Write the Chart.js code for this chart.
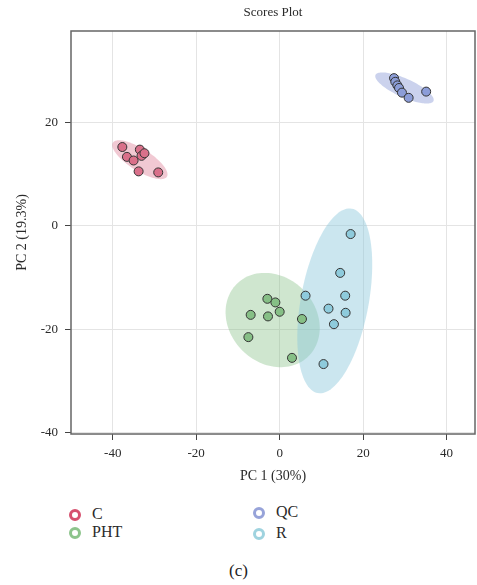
<!DOCTYPE html>
<html>
<head>
<meta charset="utf-8">
<script src="https://cdn.jsdelivr.net/npm/chart.js@4"></script>
<style>
  html, body { margin: 0; padding: 0; background: #fff; }
  body { width: 477px; height: 585px; position: relative; overflow: hidden; font-family: "Liberation Serif", "DejaVu Serif", serif; color: #333; }
  #c { position: absolute; left: 0; top: 0; }
  .lg { position: absolute; font-size: 16px; line-height: 18px; color: #2a2a2a; }
  .mk { position: absolute; width: 6px; height: 6px; border-radius: 50%; border: 3px solid; }
  #cap { position: absolute; left: 0; width: 477px; text-align: center; top: 561px; font-size: 17px; color: #222; }
</style>
</head>
<body>
<canvas id="c" width="477" height="490"></canvas>
<div id="legend"></div>
<div id="cap">(c)</div>
<script>
// ---- data ----
const groups = ['C', 'PHT', 'QC', 'R'];
const cX   = [-37.7, -36.6, -35.0, -33.5, -33.1, -32.4, -33.8, -29.1];
const cY   = [ 15.2,  13.3,  12.6,  14.7,  13.5,  14.0,  10.5,  10.3];
const phtX = [-2.95, -1.03, 0.0, -6.95, -2.8, 5.34, -7.5, 2.95];
const phtY = [-14.1, -14.8, -16.6, -17.2, -17.5, -18.0, -21.5, -25.5];
const qcX  = [27.4, 27.7, 28.2, 28.6, 29.3, 30.9, 35.1];
const qcY  = [28.5, 27.8, 27.1, 26.6, 25.7, 24.7, 25.9];
const rX   = [17.0, 14.5, 6.2, 15.7, 11.7, 15.8, 13.0, 10.5];
const rY   = [-1.6, -9.1, -13.5, -13.5, -16.0, -16.8, -19.0, -26.7];
// confidence ellipses in data units: [centerX, centerY, axis1X, axis1Y, axis2X, axis2Y]
const ellC   = [-33.5, 12.75, 6.47, -3.29, -1.41, -1.80];
const ellPHT = [-1.68, -18.2, 8.62, -6.96, -7.28, -5.87];
const ellQC  = [29.9, 26.6, 6.95, -2.51, -0.89, -1.65];
const ellR   = [13.2, -14.5, 4.07, 17.8, 8.0, -1.18];
const xTicks = [-40, -20, 0, 20, 40];
const yTicks = [-40, -20, 0, 20];

// ---- styles ----
const pointFill = { C: '#d9708a', PHT: '#86bf86', QC: '#8c9dd8', R: '#8ecbdc' };
const ellFill   = { C: 'rgba(215,100,130,0.35)', PHT: 'rgba(130,190,130,0.38)', QC: 'rgba(140,155,215,0.45)', R: 'rgba(140,200,220,0.45)' };
const legendCol = { C: '#d6506e', PHT: '#8dc48c', QC: '#97a3d9', R: '#9fd3df' };
const FONT = '"Liberation Serif", "DejaVu Serif", serif';

const seriesX = { C: cX, PHT: phtX, QC: qcX, R: rX };
const seriesY = { C: cY, PHT: phtY, QC: qcY, R: rY };
const ellipses = { C: ellC, PHT: ellPHT, QC: ellQC, R: ellR };

const datasets = groups.map(g => ({
  label: g,
  data: seriesX[g].map((x, i) => ({ x: x, y: seriesY[g][i] })),
  backgroundColor: pointFill[g],
  borderColor: '#333',
  borderWidth: 1,
  pointRadius: 4.5,
  pointHoverRadius: 4.5
}));

const ellipsePlugin = {
  id: 'ellipses',
  beforeDatasetsDraw(chart) {
    const { ctx, chartArea, scales: { x, y } } = chart;
    ctx.save();
    ctx.beginPath();
    ctx.rect(chartArea.left, chartArea.top, chartArea.right - chartArea.left, chartArea.bottom - chartArea.top);
    ctx.clip();
    groups.forEach(g => {
      const e = ellipses[g];
      ctx.beginPath();
      for (let k = 0; k <= 120; k++) {
        const t = k / 120 * Math.PI * 2;
        const vx = e[0] + Math.cos(t) * e[2] + Math.sin(t) * e[4];
        const vy = e[1] + Math.cos(t) * e[3] + Math.sin(t) * e[5];
        const px = x.getPixelForValue(vx), py = y.getPixelForValue(vy);
        if (k === 0) ctx.moveTo(px, py); else ctx.lineTo(px, py);
      }
      ctx.closePath();
      ctx.fillStyle = ellFill[g];
      ctx.fill();
    });
    ctx.restore();
  },
  afterDraw(chart) {
    const { ctx, chartArea: a } = chart;
    ctx.save();
    ctx.strokeStyle = '#666';
    ctx.lineWidth = 1.5;
    ctx.strokeRect(a.left, a.top, a.right - a.left, a.bottom - a.top);
    ctx.restore();
  }
};

new Chart(document.getElementById('c'), {
  type: 'scatter',
  data: { datasets },
  plugins: [ellipsePlugin],
  options: {
    responsive: false,
    animation: false,
    devicePixelRatio: 1,
    layout: { autoPadding: false, padding: { left: 0, right: 2, top: 0, bottom: 0 } },
    plugins: {
      legend: { display: false },
      tooltip: { enabled: false },
      title: {
        display: true,
        text: 'Scores Plot',
        fullSize: false,
        color: '#2a2a2a',
        font: { family: FONT, size: 13, weight: 'normal', lineHeight: 1.2 },
        padding: { top: 5.2, bottom: 10.2 }
      }
    },
    scales: {
      x: {
        type: 'linear',
        min: -50, max: 46.8,
        afterFit: s => { s.height = 56; s.paddingLeft = 0; s.paddingRight = 0; },
        afterBuildTicks: s => { s.ticks = xTicks.map(v => ({ value: v })); },
        ticks: { stepSize: 20, includeBounds: false, color: '#2a2a2a', padding: 6, font: { family: FONT, size: 13 } },
        grid: { color: '#e4e4e4', tickColor: '#444', tickLength: 6, lineWidth: 1 },
        border: { display: false },
        title: { display: true, text: 'PC 1 (30%)', color: '#2a2a2a', font: { family: FONT, size: 14, lineHeight: 1.2 }, padding: { top: 0, bottom: 5 } }
      },
      y: {
        type: 'linear',
        min: -40.2, max: 37.6,
        afterFit: s => { s.width = 71; },
        afterBuildTicks: s => { s.ticks = yTicks.map(v => ({ value: v })); },
        ticks: { stepSize: 20, includeBounds: false, color: '#2a2a2a', padding: 7, font: { family: FONT, size: 13 } },
        grid: { color: '#e4e4e4', tickColor: '#444', tickLength: 6, lineWidth: 1 },
        border: { display: false },
        title: { display: true, text: 'PC 2 (19.3%)', color: '#2a2a2a', font: { family: FONT, size: 14, lineHeight: 1.2 }, padding: { top: 14, bottom: 0 } }
      }
    }
  }
});

// ---- legend (HTML text) ----
const legendPos = { C: [75, 515], PHT: [75, 533], QC: [259, 513], R: [259, 534] };
const lg = document.getElementById('legend');
groups.forEach(g => {
  const [cx, cy] = legendPos[g];
  const m = document.createElement('div');
  m.className = 'mk';
  m.style.left = (cx - 6) + 'px';
  m.style.top = (cy - 6) + 'px';
  m.style.borderColor = legendCol[g];
  lg.appendChild(m);
  const t = document.createElement('div');
  t.className = 'lg';
  t.textContent = g;
  t.style.left = (cx + 17) + 'px';
  t.style.top = (cy - 10) + 'px';
  lg.appendChild(t);
});
</script>
</body>
</html>
